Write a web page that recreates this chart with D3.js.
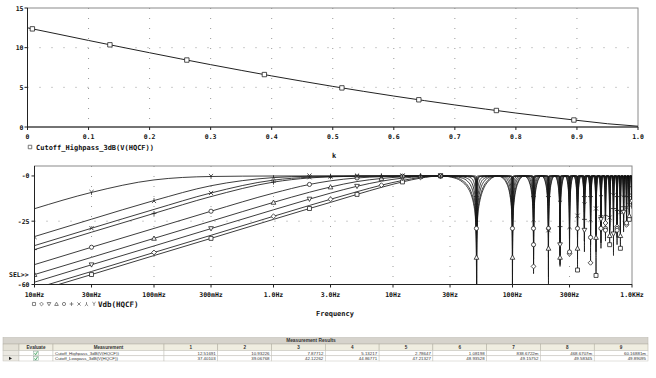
<!DOCTYPE html>
<html>
<head>
<meta charset="utf-8">
<script src="https://cdn.jsdelivr.net/npm/d3@7"></script>
<style>
  body { margin: 0; background: #fff; }
  svg { display: block; }
  .lbl { font-family: "DejaVu Sans Mono", monospace; font-weight: bold; fill: #111; }
  .tbl { font-family: "Liberation Sans", Arial, sans-serif; fill: #333; }
</style>
</head>
<body>
<svg id="chart" width="656" height="378"></svg>
<script>
// ---- top plot: cutoff vs k ----
const kValues = [0, 0.05, 0.1, 0.15, 0.2, 0.25, 0.3, 0.35, 0.4, 0.45, 0.5, 0.55, 0.6, 0.65, 0.7, 0.75, 0.8, 0.85, 0.9, 0.95, 1.0];
const cutoffValues = [12.5, 11.71, 10.91, 10.13, 9.36, 8.6, 7.86, 7.14, 6.44, 5.77, 5.12, 4.5, 3.9, 3.33, 2.78, 2.26, 1.76, 1.29, 0.84, 0.41, 0.1];
const markerK = [0.008, 0.135, 0.261, 0.388, 0.515, 0.641, 0.768, 0.895];
const markerCutoff = [12.37, 10.36, 8.44, 6.61, 4.93, 3.43, 2.08, 0.88];
const kTicks = [0, 0.1, 0.2, 0.3, 0.4, 0.5, 0.6, 0.7, 0.8, 0.9, 1.0];
const kTickLabels = ["0", "0.1", "0.2", "0.3", "0.4", "0.5", "0.6", "0.7", "0.8", "0.9", "1.0"];
const cutoffTicks = [0, 5, 10, 15];

// ---- bottom plot: Vdb(HQCF) for 9 runs ----
const freqTicks = [0.01, 0.03, 0.1, 0.3, 1, 3, 10, 30, 100, 300, 1000];
const freqTickLabels = ["10mHz", "30mHz", "100mHz", "300mHz", "1.0Hz", "3.0Hz", "10Hz", "30Hz", "100Hz", "300Hz", "1.0KHz"];
const dbTicks = [0, -25, -60];
const dbTickLabels = ["-0", "-25", "-60"];
const harmonics = [50, 100, 150, 200, 250, 300, 350, 400, 450, 500, 550, 600, 650, 700, 750, 800, 850, 900, 950, 1000];
// distance from a notch (Hz); also the frequency itself for the notch at 0 Hz
const offsets = [0.01, 0.03, 0.1, 0.3, 1, 2, 3, 5, 8, 12, 17, 25];
const profiles = [
  [-64.0, -54.5, -44.0, -34.5, -24.0, -18.0, -14.6, -10.2, -6.3, -3.3, -1.2, 0],
  [-62.3, -52.8, -42.3, -32.8, -22.3, -16.3, -12.9, -8.7, -5.1, -2.5, -0.8, 0],
  [-58.7, -49.1, -38.7, -29.1, -18.7, -12.8, -9.5, -5.7, -2.9, -1.2, -0.4, 0],
  [-54.5, -45.0, -34.5, -25.0, -14.6, -9.0, -6.1, -3.1, -1.4, -0.5, -0.1, 0],
  [-49.0, -39.4, -29.0, -19.5, -9.5, -4.7, -2.7, -1.1, -0.4, -0.15, -0.04, 0],
  [-40.7, -31.1, -20.7, -11.4, -3.4, -1.1, -0.5, -0.2, -0.07, -0.02, 0, 0],
  [-38.5, -28.9, -18.5, -9.4, -2.3, -0.7, -0.3, -0.1, -0.04, -0.01, 0, 0],
  [-33.5, -23.9, -13.6, -5.4, -0.9, -0.2, -0.1, -0.04, -0.02, 0, 0, 0],
  [-18.1, -9.1, -2.2, -0.3, -0.03, 0, 0, 0, 0, 0, 0, 0]
];
// deepest value reached at each harmonic notch, per run
const notchDepths = [
  [-80, -80, -54, -60, -49, -40, -52, -36, -30, -55, -28, -33, -38, -25, -34, -40, -26, -22, -24, -18],
  [-80, -80, -50, -52, -44, -43, -35, -42, -48, -32, -40, -26, -30, -44, -28, -22, -31, -27, -20, -16],
  [-80, -80, -46, -56, -38, -36, -46, -30, -38, -42, -24, -36, -27, -32, -38, -30, -20, -25, -17, -14],
  [-80, -80, -44, -40, -50, -30, -40, -36, -26, -34, -37, -22, -33, -26, -22, -33, -27, -18, -22, -12],
  [-80, -80, -38, -45, -35, -42, -30, -28, -34, -25, -31, -30, -20, -28, -30, -19, -23, -26, -15, -11],
  [-80, -80, -30, -34, -28, -26, -35, -24, -20, -28, -22, -25, -28, -18, -20, -24, -17, -21, -14, -10],
  [-80, -76, -28, -30, -32, -24, -22, -30, -22, -18, -26, -19, -23, -21, -16, -20, -18, -15, -16, -9],
  [-80, -70, -24, -26, -20, -28, -18, -20, -24, -16, -18, -21, -16, -19, -18, -14, -15, -17, -12, -8],
  [-80, -60, -18, -20, -15, -17, -14, -16, -12, -14, -12, -13, -15, -11, -12, -10, -12, -10, -9, -7]
];
const symbols = ["square", "diamond", "tridown", "triup", "circle", "plus", "cross", "lambda", "y"];

// ---- measurement table ----
const tableCols = ["1", "2", "3", "4", "5", "6", "7", "8", "9"];
const measNames = ["Cutoff_Highpass_3dB(V(HQCF))", "Cutoff_Lowpass_3dB(V(HQCF))"];
const highpassVals = ["12.51691", "10.93226", "7.87712", "5.13217", "2.78647", "1.08198", "838.6722m", "468.6707m", "60.16881m"];
const lowpassVals = ["37.40103", "39.06768", "42.12262", "44.86771", "47.21327", "48.93528", "49.15752", "49.58345", "49.89095"];

const svg = d3.select("#chart");

function symbolPath(type) {
  switch (type) {
    case "square": return "M-2.2,-2.2H2.2V2.2H-2.2Z";
    case "diamond": return "M0,-2.7L2.7,0L0,2.7L-2.7,0Z";
    case "tridown": return "M-2.6,-2.1H2.6L0,2.6Z";
    case "triup": return "M0,-2.6L2.6,2.1H-2.6Z";
    case "circle": return "M2.3,0A2.3,2.3 0 1,1 -2.3,0A2.3,2.3 0 1,1 2.3,0Z";
    case "plus": return "M-2.7,0H2.7M0,-2.7V2.7";
    case "cross": return "M-2.3,-2.3L2.3,2.3M-2.3,2.3L2.3,-2.3";
    case "lambda": return "M0,-2.7V0.5L-2.3,2.7M0,0.5L2.3,2.7";
    default: return "M0,2.7V-0.5L-2.3,-2.7M0,-0.5L2.3,-2.7";
  }
}
function drawSymbol(g, type, x, y, scale = 1, color = "#222") {
  g.append("path").attr("d", symbolPath(type))
    .attr("transform", `translate(${x},${y}) scale(${scale})`)
    .attr("fill", type === "plus" || type === "cross" || type === "lambda" || type === "y" ? "none" : "#fff")
    .attr("stroke", color).attr("stroke-width", 0.8 / scale);
}

// ================= top plot =================
const tx = d3.scaleLinear().domain([0, 1]).range([27.5, 638]);
const ty = d3.scaleLinear().domain([0, 15]).range([127, 8]);
const gTop = svg.append("g");

gTop.append("g").selectAll("line").data(kTicks.slice(1, -1)).join("line")
  .attr("x1", d => tx(d)).attr("x2", d => tx(d))
  .attr("y1", ty(15)).attr("y2", ty(0))
  .attr("stroke", "#999").attr("stroke-dasharray", "1,9");
gTop.append("g").selectAll("line").data(cutoffTicks.slice(1, -1)).join("line")
  .attr("x1", tx(0)).attr("x2", tx(1))
  .attr("y1", d => ty(d)).attr("y2", d => ty(d))
  .attr("stroke", "#999").attr("stroke-dasharray", "1,11");

gTop.append("rect").attr("x", tx(0)).attr("y", ty(15))
  .attr("width", tx(1) - tx(0)).attr("height", ty(0) - ty(15))
  .attr("fill", "none").attr("stroke", "#8a8a8a");
gTop.append("line").attr("x1", tx(0)).attr("x2", tx(1)).attr("y1", ty(0)).attr("y2", ty(0)).attr("stroke", "#222");
gTop.append("line").attr("x1", tx(0)).attr("x2", tx(0)).attr("y1", ty(0)).attr("y2", ty(15)).attr("stroke", "#222");

gTop.append("g").selectAll("line").data(kTicks).join("line")
  .attr("x1", d => tx(d)).attr("x2", d => tx(d)).attr("y1", ty(0)).attr("y2", ty(0) + 3).attr("stroke", "#222");
gTop.append("g").selectAll("line").data(cutoffTicks).join("line")
  .attr("x1", tx(0) - 3).attr("x2", tx(0)).attr("y1", d => ty(d)).attr("y2", d => ty(d)).attr("stroke", "#222");

gTop.append("g").selectAll("text").data(kTicks).join("text").attr("class", "lbl")
  .attr("x", d => tx(d)).attr("y", ty(0) + 12).attr("text-anchor", "middle")
  .attr("font-size", 6.5).text((d, i) => kTickLabels[i]);
gTop.append("g").selectAll("text").data(cutoffTicks).join("text").attr("class", "lbl")
  .attr("x", tx(0) - 4).attr("y", d => ty(d) + 2.5).attr("text-anchor", "end")
  .attr("font-size", 6.5).text(d => d);

gTop.append("path").datum(kValues.map((k, i) => [k, cutoffValues[i]]))
  .attr("d", d3.line().x(d => tx(d[0])).y(d => ty(d[1])))
  .attr("fill", "none").attr("stroke", "#222").attr("stroke-width", 1);
markerK.forEach((k, i) => drawSymbol(gTop, "square", tx(k), ty(markerCutoff[i])));

drawSymbol(gTop, "square", 30, 147, 0.8, "#555");
gTop.append("text").attr("class", "lbl").attr("x", 36).attr("y", 149.5).attr("font-size", 7)
  .text("Cutoff_Highpass_3dB(V(HQCF))");
gTop.append("text").attr("class", "lbl").attr("x", 334).attr("y", 158).attr("font-size", 7)
  .attr("text-anchor", "middle").text("k");

// ================= bottom plot =================
const fx = d3.scaleLog().domain([0.01, 1000]).range([34.5, 632]);
const fy = d3.scaleLinear().domain([-60, 5.5]).range([284.5, 166]);
const gBot = svg.append("g");

svg.append("defs").append("clipPath").attr("id", "clipB").append("rect")
  .attr("x", fx(0.01)).attr("y", fy(5.5)).attr("width", fx(1000) - fx(0.01)).attr("height", fy(-60) - fy(5.5));

gBot.append("g").selectAll("line").data(freqTicks.slice(1, -1)).join("line")
  .attr("x1", d => fx(d)).attr("x2", d => fx(d)).attr("y1", fy(5.5)).attr("y2", fy(-60))
  .attr("stroke", "#999").attr("stroke-dasharray", "1,9");
gBot.append("line").attr("x1", fx(0.01)).attr("x2", fx(1000)).attr("y1", fy(-25)).attr("y2", fy(-25))
  .attr("stroke", "#999").attr("stroke-dasharray", "1,11");

gBot.append("rect").attr("x", fx(0.01)).attr("y", fy(5.5))
  .attr("width", fx(1000) - fx(0.01)).attr("height", fy(-60) - fy(5.5))
  .attr("fill", "none").attr("stroke", "#8a8a8a");

function seriesPoints(si) {
  const prof = profiles[si], depth = notchDepths[si];
  const pts = offsets.map((d, j) => ({ f: d, db: prof[j], j }));
  harmonics.forEach((h, n) => {
    for (let j = offsets.length - 2; j >= 0; j--) {
      if (prof[j] > depth[n]) pts.push({ f: h - offsets[j], db: prof[j], side: j });
    }
    pts.push({ f: h, db: depth[n], n });
    for (let j = 0; j < offsets.length; j++) {
      if (prof[j] > depth[n]) pts.push({ f: h + offsets[j], db: prof[j] });
    }
  });
  return pts;
}

const traces = gBot.append("g").attr("clip-path", "url(#clipB)");
const marks = gBot.append("g").attr("clip-path", "url(#clipB)");
const line = d3.line().x(d => fx(d.f)).y(d => fy(d.db)).curve(d3.curveMonotoneX);
profiles.forEach((p, si) => {
  const pts = seriesPoints(si);
  traces.append("path").datum(pts).attr("d", line)
    .attr("fill", "none").attr("stroke", "#1a1a1a").attr("stroke-width", 0.85);
  pts.forEach((d, idx) => {
    const dcMark = d.j !== undefined && (d.j + si) % 2 === 1 && d.db > -59;
    const notchMark = d.n !== undefined && (d.n + si) % 3 === 0 && d.db > -59;
    const stemMark = d.side !== undefined && d.side === 1 + (si % 3) && (idx + si) % 4 === 0 && d.db > -59;
    if (dcMark || notchMark || stemMark) drawSymbol(marks, symbols[si], fx(d.f), fy(d.db), 0.9);
  });
});

gBot.append("line").attr("x1", fx(0.01)).attr("x2", fx(1000)).attr("y1", fy(-60)).attr("y2", fy(-60)).attr("stroke", "#222");
gBot.append("line").attr("x1", fx(0.01)).attr("x2", fx(0.01)).attr("y1", fy(-60)).attr("y2", fy(5.5)).attr("stroke", "#222");
gBot.append("g").selectAll("line").data(freqTicks).join("line")
  .attr("x1", d => fx(d)).attr("x2", d => fx(d)).attr("y1", fy(-60)).attr("y2", fy(-60) + 3).attr("stroke", "#222");
gBot.append("g").selectAll("line").data(dbTicks).join("line")
  .attr("x1", fx(0.01) - 3).attr("x2", fx(0.01)).attr("y1", d => fy(d)).attr("y2", d => fy(d)).attr("stroke", "#222");

gBot.append("g").selectAll("text").data(freqTicks).join("text").attr("class", "lbl")
  .attr("x", d => fx(d)).attr("y", fy(-60) + 12).attr("text-anchor", "middle")
  .attr("font-size", 6.5).text((d, i) => freqTickLabels[i]);
gBot.append("g").selectAll("text").data(dbTicks).join("text").attr("class", "lbl")
  .attr("x", fx(0.01) - 5).attr("y", d => fy(d) + 2.5).attr("text-anchor", "end")
  .attr("font-size", 6.5).text((d, i) => dbTickLabels[i]);
gBot.append("text").attr("class", "lbl").attr("x", 9).attr("y", 276.5).attr("font-size", 6.5).text("SEL>>");

symbols.forEach((s, i) => drawSymbol(gBot, s, 34 + i * 7.5, 304, 0.7, "#666"));
gBot.append("text").attr("class", "lbl").attr("x", 98).attr("y", 306.5).attr("font-size", 7.5).text("Vdb(HQCF)");
gBot.append("text").attr("class", "lbl").attr("x", 335).attr("y", 316).attr("font-size", 7)
  .attr("text-anchor", "middle").text("Frequency");

// ================= measurement table =================
const tbl = svg.append("g");
const colEdges = [3, 19, 53, 164].concat(tableCols.map((c, i) => 164 + (i + 1) * (648 - 164) / tableCols.length));
const rowEdges = [337.5, 344, 350.5, 355.8, 361];

tbl.append("rect").attr("x", 3).attr("y", rowEdges[0]).attr("width", 645).attr("height", rowEdges[1] - rowEdges[0])
  .attr("fill", "#d6d3cc").attr("stroke", "#b8b5ad").attr("stroke-width", 0.5);
tbl.append("text").attr("class", "tbl").attr("x", 311).attr("y", rowEdges[1] - 2)
  .attr("text-anchor", "middle").attr("font-size", 4.8).attr("font-weight", "bold").text("Measurement Results");

const headers = ["", "Evaluate", "Measurement"].concat(tableCols);
headers.forEach((h, i) => {
  tbl.append("rect").attr("x", colEdges[i]).attr("y", rowEdges[1])
    .attr("width", colEdges[i + 1] - colEdges[i]).attr("height", rowEdges[2] - rowEdges[1])
    .attr("fill", i === 0 ? "#e4e1d6" : "#efede0").attr("stroke", "#aeab9e").attr("stroke-width", 0.5);
  tbl.append("text").attr("class", "tbl").attr("x", (colEdges[i] + colEdges[i + 1]) / 2).attr("y", rowEdges[2] - 1.8)
    .attr("text-anchor", "middle").attr("font-size", 4.6).attr("font-weight", "bold").text(h);
});

[highpassVals, lowpassVals].forEach((vals, r) => {
  const y0 = rowEdges[r + 2], y1 = rowEdges[r + 3];
  const cells = ["", "", measNames[r]].concat(vals);
  cells.forEach((c, i) => {
    tbl.append("rect").attr("x", colEdges[i]).attr("y", y0)
      .attr("width", colEdges[i + 1] - colEdges[i]).attr("height", y1 - y0)
      .attr("fill", i === 0 ? "#ebe9e2" : "#fff").attr("stroke", "#c4c2ba").attr("stroke-width", 0.5);
    if (i === 2) {
      tbl.append("text").attr("class", "tbl").attr("x", colEdges[i] + 2).attr("y", y1 - 1.2)
        .attr("font-size", 4.4).text(c);
    } else if (i > 2) {
      tbl.append("text").attr("class", "tbl").attr("x", colEdges[i + 1] - 2).attr("y", y1 - 1.2)
        .attr("text-anchor", "end").attr("font-size", 4.4).text(c);
    }
  });
  // evaluate checkbox
  const cx = (colEdges[1] + colEdges[2]) / 2;
  tbl.append("rect").attr("x", cx - 2.3).attr("y", y0 + 0.6).attr("width", 4.6).attr("height", y1 - y0 - 1.2)
    .attr("fill", "#f4fbf4").attr("stroke", "#8aa89a").attr("stroke-width", 0.5);
  tbl.append("path").attr("d", `M${cx - 1.5},${(y0 + y1) / 2}L${cx - 0.4},${y1 - 1}L${cx + 1.6},${y0 + 1}`)
    .attr("fill", "none").attr("stroke", "#3aa05a").attr("stroke-width", 0.8);
});
// current-row arrow
tbl.append("path").attr("d", `M9,${rowEdges[3] + 1}L12,${(rowEdges[3] + rowEdges[4]) / 2}L9,${rowEdges[4] - 1}Z`)
  .attr("fill", "#222");
</script>
</body>
</html>
